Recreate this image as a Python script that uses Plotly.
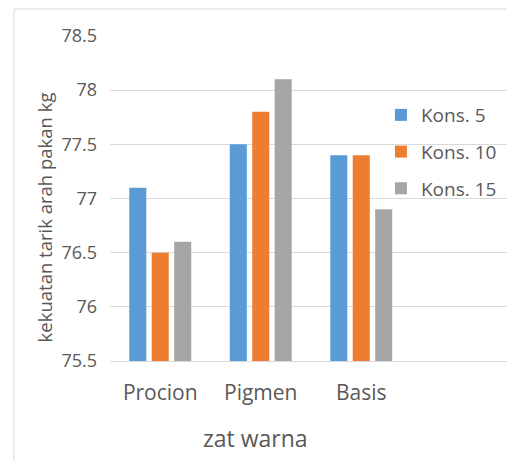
import plotly.graph_objects as go

# data
categories = ['Procion', 'Pigmen', 'Basis']
kons_5 = [77.1, 77.5, 77.4]
kons_10 = [76.5, 77.8, 77.4]
kons_15 = [76.6, 78.1, 76.9]
series_names = ['Kons. 5', 'Kons. 10', 'Kons. 15']
colors = ['#5B9BD5', '#ED7D31', '#A5A5A5']
y_floor = 75.5

text_col = '#595959'
grid_col = '#D9D9D9'
font_family = 'Open Sans, Noto Sans, sans-serif'

fig = go.Figure()
for name, vals, col in zip(series_names, [kons_5, kons_10, kons_15], colors):
    # bars start at the axis floor, like the Excel original
    fig.add_trace(go.Bar(
        x=categories,
        y=[v - y_floor for v in vals],
        base=y_floor,
        name=name,
        legendgroup=name,
        marker=dict(color=col, line=dict(width=0))
    ))

# the page body adds an 8px offset, so margins are shifted to compensate
fig.update_layout(
    width=515, height=461,
    margin=dict(l=102, r=11, t=28, b=108, autoexpand=False),
    paper_bgcolor='white',
    plot_bgcolor='white',
    font=dict(family=font_family, color=text_col, size=18),
    barmode='group',
    bargap=0.33,
    bargroupgap=0.24,
    showlegend=True,
    legend=dict(
        x=0.674, xanchor='left',
        y=0.643, yanchor='middle',
        font=dict(size=19, color=text_col),
        tracegroupgap=9,
        traceorder='grouped',
        bgcolor='rgba(0,0,0,0)'
    ),
    xaxis=dict(
        type='category',
        range=[-0.5, 3.5],
        automargin=False,
        showgrid=False,
        showline=True,
        linecolor=grid_col,
        linewidth=1,
        ticks='',
        ticklabelstandoff=13,
        tickfont=dict(size=21, color=text_col),
    ),
    yaxis=dict(
        range=[75.5, 78.5],
        dtick=0.5,
        tick0=75.5,
        automargin=False,
        showgrid=True,
        gridcolor=grid_col,
        gridwidth=1,
        zeroline=False,
        showline=False,
        ticks='',
        ticklabelstandoff=12,
        tickfont=dict(size=18, color=text_col),
    ),
    annotations=[
        dict(text='zat warna', x=0.95, xref='x', y=-0.237, yref='paper',
             xanchor='center', yanchor='middle', showarrow=False,
             font=dict(size=23, color=text_col)),
        dict(text='kekuatan tarik arah pakan kg', x=-0.162, xref='paper',
             y=0.4415, yref='paper', textangle=-90, xanchor='center',
             yanchor='middle', showarrow=False,
             font=dict(size=18.5, color=text_col)),
    ],
    shapes=[
        dict(type='rect', xref='paper', yref='paper',
             x0=-0.2388, x1=2, y0=-1, y1=1.0831,
             line=dict(color=grid_col, width=1), fillcolor='rgba(0,0,0,0)',
             layer='below'),
    ],
)

fig.write_html("out.html")
